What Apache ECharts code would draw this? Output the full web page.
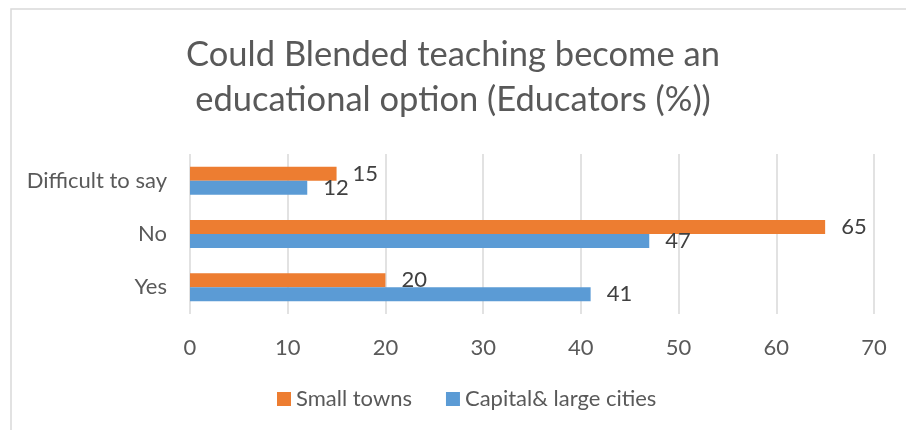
<!DOCTYPE html>
<html>
<head>
<meta charset="utf-8">
<script src="https://cdn.jsdelivr.net/npm/echarts@6/dist/echarts.min.js"></script>
<style>
  html, body { margin: 0; padding: 0; background: #fff; }
  #chart { width: 906px; height: 430px; }
</style>
</head>
<body>
<div id="chart"></div>
<script>
// categories, bottom to top as the axis draws them
const categories = ['Yes', 'No', 'Difficult to say']
const smallTowns = [20, 65, 15]
const largeCities = [41, 47, 12]
const seriesNames = ['Small towns', 'Capital& large cities']
const xTicks = [0, 70, 10] // min, max, step

const textColor = '#595959'
const font = 'Lato'

const chart = echarts.init(document.getElementById('chart'))

// bar label shared by both series
const barLabel = {
  show: true,
  position: 'right',
  distance: 16,
  color: '#404040',
  fontFamily: font,
  fontSize: 22
}

const option = {
  animation: false,
  textStyle: { fontFamily: font },
  // thin frame like the office chart area
  graphic: [
    {
      type: 'rect',
      shape: { x: 11, y: 9, width: 1000, height: 600 },
      style: { fill: 'none', stroke: '#d9d9d9', lineWidth: 1.5 },
      silent: true
    }
  ],
  title: {
    text: 'Could Blended teaching become an\neducational option (Educators (%))',
    left: 'center',
    top: 27,
    textStyle: {
      color: textColor,
      fontFamily: font,
      fontWeight: 'normal',
      fontSize: 34.5,
      lineHeight: 45
    }
  },
  legend: {
    bottom: 15,
    left: 272,
    icon: 'rect',
    itemWidth: 14,
    itemHeight: 14,
    itemGap: 34,
    textStyle: { color: textColor, fontFamily: font, fontSize: 22 },
    data: seriesNames
  },
  grid: {
    left: 190,
    right: 32,
    top: 154,
    bottom: 116,
    containLabel: false
  },
  xAxis: {
    type: 'value',
    min: xTicks[0],
    max: xTicks[1],
    interval: xTicks[2],
    axisLine: { show: false },
    axisTick: { show: false },
    splitLine: { lineStyle: { color: '#d9d9d9', width: 1.5 } },
    axisLabel: { color: textColor, fontFamily: font, fontSize: 22, margin: 23 }
  },
  yAxis: {
    type: 'category',
    data: categories,
    axisLine: { show: false },
    axisTick: { show: false },
    axisLabel: { color: textColor, fontFamily: font, fontSize: 22, margin: 23 }
  },
  series: [
    {
      name: seriesNames[0],
      type: 'bar',
      data: smallTowns,
      barWidth: 14,
      barGap: '0%',
      itemStyle: { color: '#ED7D31' },
      label: barLabel
    },
    {
      name: seriesNames[1],
      type: 'bar',
      data: largeCities,
      barWidth: 14,
      itemStyle: { color: '#5B9BD5' },
      label: barLabel
    }
  ]
}

chart.setOption(option)
</script>
</body>
</html>
